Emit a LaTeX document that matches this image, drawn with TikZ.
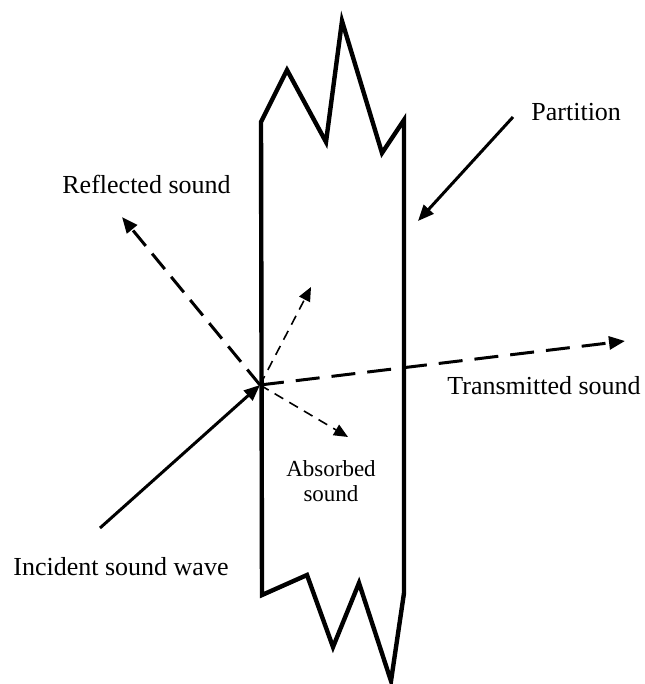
\documentclass[tikz,border=0pt]{standalone}
\usepackage{fontspec}
\setmainfont{Liberation Serif}
\usetikzlibrary{arrows.meta}

\begin{document}
\begin{tikzpicture}[x=0.5pt,y=-0.5pt,font=\fontsize{13}{15}\selectfont,
  wall/.style={line width=2.2pt,line join=miter,miter limit=20},
  ray/.style={line width=1.5pt,-{Triangle[length=8pt,width=6.5pt]}},
  bigdash/.style={ray,dash pattern=on 10pt off 5pt},
  smalldash/.style={line width=0.8pt,dash pattern=on 5pt off 3.5pt,-{Triangle[length=7pt,width=6pt]}},
  lbl/.style={anchor=base west,inner sep=0pt}]
\useasboundingbox (0,0) rectangle (644,684);
% partition with broken ends
\draw[wall] (261,122) -- (287,70) -- (326,142) -- (342,21) -- (382,153) -- (404,120)
  -- (404,593) -- (391,681) -- (359,583) -- (333,647) -- (307,575) -- (262,595) -- cycle;
\coordinate (hit) at (260,385);
\coordinate (src) at (100,528);
\coordinate (refl) at (122,217);
\coordinate (trans) at (625,341);
\coordinate (inner) at (311,287);
\coordinate (absb) at (348,437);
\coordinate (ptail) at (513,117);
\coordinate (pwall) at (418,221);
% labels
\node[lbl] (partlbl) at (531,121) {Partition};
\node[lbl] (refllbl) at (62,193) {Reflected sound};
\node[lbl] (translbl) at (447,394) {Transmitted sound};
\node[lbl] (inclbl) at (13,575) {Incident sound wave};
\node[align=center,font=\fontsize{11.5}{12.5}\selectfont] (abslbl) at (331,481) {Absorbed\\sound};
% rays
\draw[ray] (src) -- (hit);
\draw[bigdash] (hit) -- (refl);
\draw[bigdash,dash pattern=on 12pt off 6pt] (hit) -- (trans);
\draw[smalldash] (hit) -- (inner);
\draw[smalldash] (hit) -- (absb);
\draw[ray] (ptail) -- (pwall);
\end{tikzpicture}
\end{document}
